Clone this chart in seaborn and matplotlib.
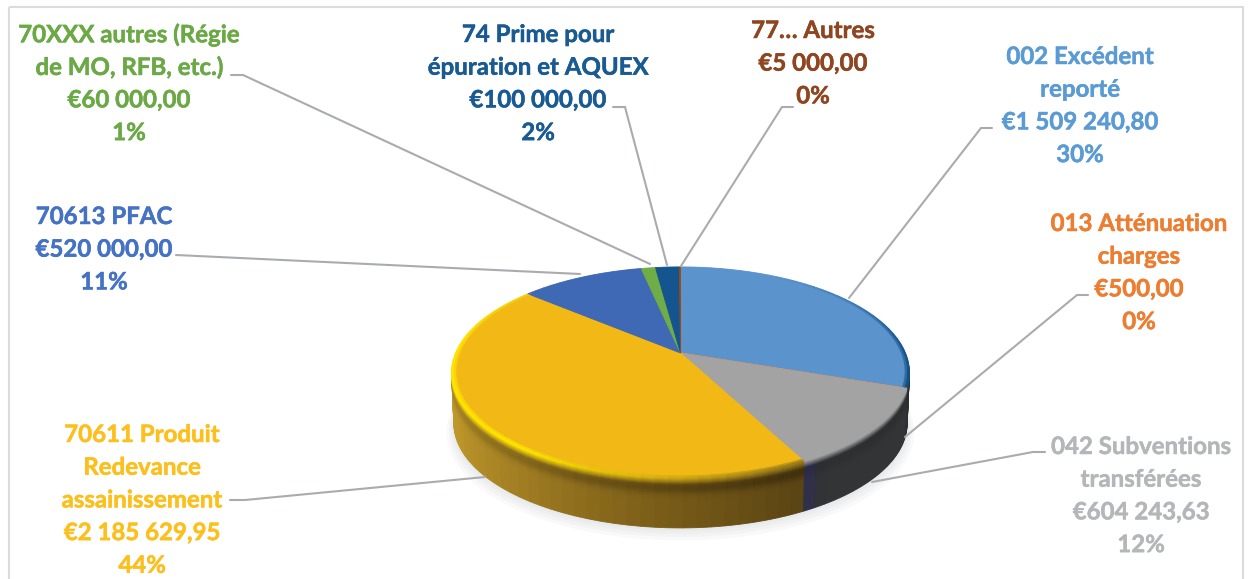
import matplotlib

matplotlib.use("Agg")
import matplotlib.lines as mlines
import matplotlib.patches as mpatches
import matplotlib.patheffects as path_effects
import matplotlib.pyplot as plt
import matplotlib.transforms as mtransforms
import numpy as np
import seaborn as sns

# --- data ---
categories = [
    "002 Excédent reporté",
    "013 Atténuation charges",
    "042 Subventions transférées",
    "70611 Produit Redevance assainissement",
    "70613 PFAC",
    "70XXX autres",
    "74 Prime pour épuration et AQUEX",
    "77 Autres",
]
values = [1509240.80, 500.00, 604243.63, 2185629.95, 520000.00, 60000.00, 100000.00, 5000.00]

top_colors = ["#5b93cd", "#ed7d31", "#a3a3a3", "#f2b916", "#3f69b4", "#70ad47", "#15558f", "#9e480e"]
wall_colors = [
    ["#123a5e", "#1b4f80", "#20384c", "#2a3034"],
    ["#333333", "#333333"],
    ["#323436"] * 24 + ["#2e2e3c", "#30304a"],
    ["#5c4514", "#7a5d18", "#a07d22", "#bd962a", "#c9a22c", "#c9a22c"],
    ["#2a4a80", "#2a4a80"],
    ["#4a7530", "#4a7530"],
    ["#103a60", "#103a60"],
    ["#6a300a", "#6a300a"],
]
edge_colors = [
    ["#5b93cd", "#5b93cd", "#3f7cb8", "#1c5a92", "#14507f"],
    ["#ed7d31", "#ed7d31"],
    ["#a3a3a3", "#a3a3a3"],
    ["#9a7c1a", "#d8b010", "#ffe400", "#ffe400", "#ffe400", "#f2d010"],
    ["#3f69b4", "#3f69b4"],
    ["#70ad47", "#70ad47"],
    ["#15558f", "#15558f"],
    ["#9e480e", "#9e480e"],
]
# how much the band under the rim darkens, per slice (start, end)
band_dark = [(0.1, 0.1), (0.1, 0.1), (0.1, 0.1), (0.3, 0.0), (0.1, 0.1), (0.1, 0.1), (0.1, 0.1), (0.1, 0.1)]

# label text, one list per slice: colour, centre x, first line y, lines
labels = [
    ("#5b9bd5", 1080, 56.5, ["002 Excédent", "reporté", "€1 509 240,80", "30%"]),
    ("#ed7d31", 1139, 223.5, ["013 Atténuation", "charges", "€500,00", "0%"]),
    ("#b4b6ba", 1141, 446.5, ["042 Subventions", "transférées", "€604 243,63", "12%"]),
    ("#fdbf1c", 142, 434.5, ["70611 Produit", "Redevance", "assainissement", "€2 185 629,95", "44%"]),
    ("#4472c4", 104, 216.5, ["70613 PFAC", "€520 000,00", "11%"]),
    ("#6aa945", 129, 34.5, ["70XXX autres (Régie", "de MO, RFB, etc.)", "€60 000,00", "1%"]),
    ("#1a5a93", 538, 34.5, ["74 Prime pour", "épuration et AQUEX", "€100 000,00", "2%"]),
    ("#8f4520", 813, 30.5, ["77… Autres", "€5 000,00", "0%"]),
]
line_step = 32.7

# leader lines in pixel coordinates of the picture
leaders = [
    [(992, 128), (981, 128), (849, 298)],
    [(1088, 295), (1077, 295), (905, 437)],
    [(1045, 452), (1033, 452), (872, 482)],
    [(230, 500), (245, 500), (485, 477)],
    [(176, 255), (580, 274)],
    [(231, 75), (243, 75), (650, 264)],
    [(613, 107), (625, 107), (667, 265)],
    [(793, 107), (782, 107), (681, 266)],
]

# --- perspective of the disc ---
CENTER_X = 680.5
TOP_Y = 353
BOTTOM_Y = 404
KX = 225
KY = 102
PERSP = 0.185


class TiltTransform(mtransforms.Transform):
    """Unit circle -> tilted disc in picture pixels."""

    input_dims = 2
    output_dims = 2

    def __init__(self, y0, scale=1.0):
        super().__init__()
        self.y0 = y0
        self.scale = scale

    def transform_non_affine(self, values):
        values = np.asarray(values, dtype=float)
        d = 1 + PERSP * values[:, 1]
        return np.column_stack(
            [
                CENTER_X + self.scale * KX * values[:, 0] / d,
                self.y0 - self.scale * KY * values[:, 1] / d,
            ]
        )


def sub_slices(step_deg=3.0):
    total = sum(values)
    out_values, owner, pos = [], [], []
    for i, v in enumerate(values):
        n = max(1, int(round(v / total * 360 / step_deg)))
        out_values += [v / n] * n
        owner += [i] * n
        pos += list((np.arange(n) + 0.5) / n)
    return out_values, np.array(owner), np.array(pos)


def ramp(stops, n):
    return np.array(sns.blend_palette(stops, n_colors=max(n, 2)))[: max(n, 1)]


def draw_disc(ax, y0, scale, colors, radius=1.0, sub_vals=None, alpha=None):
    vals = values if sub_vals is None else sub_vals
    wedges, _ = ax.pie(
        vals,
        colors=colors,
        startangle=90,
        counterclock=False,
        radius=radius,
        wedgeprops={"alpha": alpha},
    )
    tr = TiltTransform(y0, scale) + ax.transData
    for w in wedges:
        w.set_transform(tr)
        w.set_clip_on(False)
        if alpha is None:
            # same colour edge hides the seams between sub slices
            w.set_edgecolor(w.get_facecolor())
            w.set_linewidth(0.6)
        else:
            w.set_linewidth(0)


sns.set_theme(style="white")
plt.rcParams["font.family"] = ["Lato", "DejaVu Sans"]

fig = plt.figure(figsize=(12.5, 5.79), dpi=100, facecolor="white")
ax = fig.add_axes([0, 0, 1, 1])

# soft shadow under the disc
for dy, r in zip([8, 6, 4, 2], [1.03, 1.02, 1.012, 1.005]):
    draw_disc(ax, BOTTOM_Y + dy, 0.99, ["#9aa0a8"], radius=r, alpha=0.06, sub_vals=[1])

# wall: a stack of thin discs, shaded by slice and depth
sub_vals, owner, pos = sub_slices()
wall_ramp = np.zeros((len(sub_vals), 3))
edge_ramp = np.zeros((len(sub_vals), 3))
dark_amount = np.zeros(len(sub_vals))
for i in range(len(values)):
    idx = np.where(owner == i)[0]
    wall_ramp[idx] = ramp(wall_colors[i], len(idx))
    edge_ramp[idx] = ramp(edge_colors[i], len(idx))
    dark_amount[idx] = band_dark[i][0] + (band_dark[i][1] - band_dark[i][0]) * pos[idx]

layers = np.arange(BOTTOM_Y, TOP_Y, -1.0)
for y0 in layers:
    t = (y0 - TOP_Y) / (BOTTOM_Y - TOP_Y)
    s = 0.99 + 0.01 * (1 - t)
    w = np.clip(1 - t / 0.13, 0, 1)
    dark = 1 - dark_amount * np.exp(-(((t - 0.2) / 0.12) ** 2))
    cols = w * edge_ramp + (1 - w) * wall_ramp * dark[:, None]
    draw_disc(ax, y0, s, [tuple(c) for c in cols], sub_vals=sub_vals)

# bevel rim, then the top face
top_ramp = np.zeros((len(sub_vals), 3))
for i in range(len(values)):
    idx = np.where(owner == i)[0]
    top_ramp[idx] = ramp([top_colors[i], top_colors[i]], len(idx))
draw_disc(ax, TOP_Y, 1.0, [tuple(c) for c in edge_ramp], sub_vals=sub_vals)
draw_disc(ax, TOP_Y, 1.0, [tuple(c) for c in 0.6 * edge_ramp + 0.4 * top_ramp], radius=0.988, sub_vals=sub_vals)
draw_disc(ax, TOP_Y, 1.0, top_colors, radius=0.978)

ax.set_aspect("auto")
ax.set_xlim(0, 1250)
ax.set_ylim(579, 0)
ax.axis("off")

# leader lines
for pts in leaders:
    xs, ys = zip(*pts)
    ax.add_line(mlines.Line2D(xs, ys, color="#a9abaf", lw=1.5, solid_joinstyle="miter", clip_on=False))

# labels (Lato bold is a bit thin next to the original, so a small stroke thickens it)
for color, cx, y_first, lines in labels:
    for k, line in enumerate(lines):
        txt = ax.text(cx, y_first + k * line_step, line, color=color, fontsize=17.3, fontweight="bold", ha="center", va="center")
        txt.set_path_effects([path_effects.withStroke(linewidth=0.35, foreground=color)])

# outer frame of the chart area
ax.add_patch(
    mpatches.Rectangle((9, 7), 1234, 620, fill=False, edgecolor="#dcdcdc", lw=1.5, clip_on=True)
)

fig.savefig("out.png", dpi=100)
